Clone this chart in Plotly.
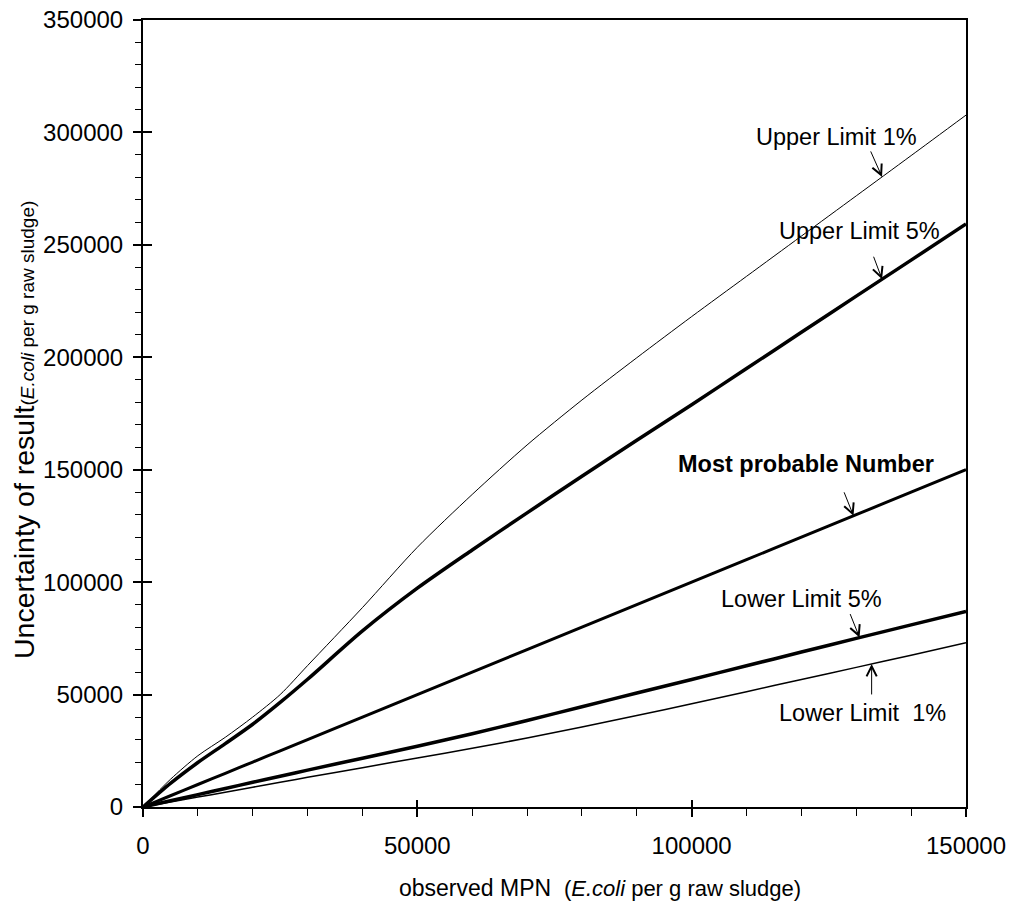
import numpy as np
import plotly.graph_objects as go

# ---------------- data ----------------
mpn_x = [0, 5000, 10000, 15000, 20000, 25000, 30000, 40000, 50000, 60000, 70000,
         80000, 90000, 100000, 110000, 120000, 130000, 140000, 150000]

upper_1 = [0, 12300, 22800, 31000, 40000, 50000, 62900, 88700, 115500, 139000, 161000,
           181000, 199800, 218100, 236000, 253900, 271800, 289700, 307700]
upper_5 = [0, 10500, 19800, 28200, 36800, 46500, 56800, 78300, 97300, 114300, 130800,
           147100, 163100, 178900, 195000, 211100, 227200, 243200, 259300]
most_probable = [0, 5000, 10000, 15000, 20000, 25000, 30000, 40000, 50000, 60000, 70000,
                 80000, 90000, 100000, 110000, 120000, 130000, 140000, 150000]
lower_5 = [0, 2750, 5500, 8250, 11000, 13700, 16400, 21700, 27000, 32600, 38500,
           44600, 50700, 56700, 62800, 68900, 75000, 81000, 87000]
lower_1 = [0, 2200, 4400, 6600, 8800, 11000, 13200, 17500, 21800, 26100, 30700,
           35600, 40700, 45900, 51300, 56700, 62100, 67500, 73000]

x_ticks = [0, 50000, 100000, 150000]
y_ticks = [0, 50000, 100000, 150000, 200000, 250000, 300000, 350000]

series_names = ["Upper Limit 1%", "Upper Limit 5%", "Most probable Number",
                "Lower Limit 5%", "Lower Limit\u00a0\u00a01%"]
series_values = [upper_1, upper_5, most_probable, lower_5, lower_1]
label_at_x = [134700, 134700, 129500, 130600, 132800]

FONT = "Liberation Sans, Arial, sans-serif"

fig = go.Figure()

widths = [1, 3.5, 3, 3.5, 1.5]
for name, vals, w in zip(series_names, series_values, widths):
    fig.add_trace(go.Scatter(
        x=mpn_x, y=vals, mode="lines", name=name,
        line=dict(color="black", width=w, shape="spline", smoothing=0.8),
        showlegend=False, hoverinfo="skip"))

# dummy trace for overlay axes (inside half of the major ticks)
fig.add_trace(go.Scatter(x=mpn_x, y=most_probable, xaxis="x2", yaxis="y2",
                         mode="lines", line=dict(width=0), opacity=0,
                         showlegend=False, hoverinfo="skip"))

# ---------------- annotations with arrows ----------------
arrow_offsets = [(-12, -27), (-9, -24), (-10, -25), (-10, -25), (0, 32)]
text_shift = [(-46, 40), (-23, 48), (-48, 52), (-58, 39), (-9, -49)]
for name, vals, xa, (ax, ay), (sx, sy) in zip(series_names, series_values,
                                              label_at_x, arrow_offsets, text_shift):
    ya = float(np.interp(xa, mpn_x, vals))
    fig.add_annotation(x=xa, y=ya, xref="x", yref="y", text="",
                       showarrow=True, ax=ax, ay=ay, arrowhead=5,
                       arrowsize=2, arrowwidth=1, arrowcolor="black",
                       standoff=0)
    label = "<b>%s</b>" % name if name.startswith("Most") else name
    fig.add_annotation(x=xa, y=ya, xref="x", yref="y", text=label,
                       showarrow=False, xshift=sx, yshift=sy,
                       font=dict(family=FONT, size=23.5, color="black"))

# ---------------- axis titles ----------------
fig.add_annotation(
    x=0.5553, y=-0.1029, xref="paper", yref="paper",
    text="observed MPN\u00a0\u00a0<span style='font-size:22px'>(<i>E.coli</i> per g raw sludge)</span>",
    showarrow=False, font=dict(family=FONT, size=23, color="black"),
    xanchor="center", yanchor="middle")
fig.add_annotation(
    x=-0.1446, y=0.479, xref="paper", yref="paper", textangle=-90,
    text="Uncertainty of result<span style='font-size:19px'>(<i>E.coli</i> per g raw sludge)</span>",
    showarrow=False, font=dict(family=FONT, size=28.5, color="black"),
    xanchor="center", yanchor="middle")

axis_common = dict(showgrid=False, zeroline=False, showline=True,
                   linecolor="black", linewidth=2, mirror=True, automargin=False,
                   ticks="outside", ticklen=8, tickwidth=1.5, tickcolor="black",
                   ticklabeloverflow="allow",
                   tickfont=dict(family=FONT, size=24, color="black"))

fig.update_layout(
    width=1018, height=907,
    margin=dict(l=143, r=52, t=20, b=100),
    paper_bgcolor="white", plot_bgcolor="white",
    font=dict(family=FONT, color="black"),
    xaxis=dict(range=[0, 150000], tickvals=x_ticks,
               ticktext=[str(v) for v in x_ticks], ticklabelstandoff=8,
               minor=dict(dtick=10000, tick0=0, ticks="outside", ticklen=7,
                          tickwidth=1, tickcolor="black"),
               **axis_common),
    yaxis=dict(range=[0, 350000], tickvals=y_ticks,
               ticktext=[str(v) for v in y_ticks], ticklabelstandoff=5,
               minor=dict(dtick=10000, tick0=0, ticks="outside", ticklen=6,
                          tickwidth=1, tickcolor="black"),
               **axis_common),
    xaxis2=dict(range=[0, 150000], overlaying="x", anchor="y2", side="bottom",
                tickvals=x_ticks, ticks="inside", ticklen=7, tickwidth=1.5,
                tickcolor="black", showticklabels=False, showgrid=False,
                zeroline=False, showline=False, automargin=False),
    yaxis2=dict(range=[0, 350000], overlaying="y", anchor="x2", side="left",
                tickvals=y_ticks, ticks="inside", ticklen=9, tickwidth=1.5,
                tickcolor="black", showticklabels=False, showgrid=False,
                zeroline=False, showline=False, automargin=False),
)

# remove the default 8px page margin so the figure fills the window exactly
fig.write_html("out.html",
               config={"displayModeBar": False},
               post_script="document.body.style.margin='0';"
                           "document.documentElement.style.overflow='hidden';")
